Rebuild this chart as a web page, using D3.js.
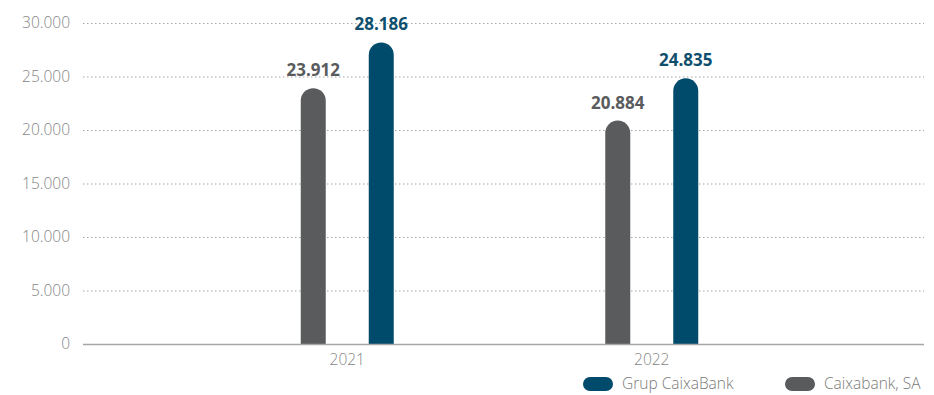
<!DOCTYPE html>
<html>
<head>
<meta charset="utf-8">
<script src="https://cdn.jsdelivr.net/npm/d3@7"></script>
<style>
  body { margin: 0; background: #fff; }
  svg { font-family: "Open Sans", sans-serif; }
</style>
</head>
<body>
<div id="chart"></div>
<script>
// data
var years = ["2021", "2022"];
var seriesNames = ["Caixabank, SA", "Grup CaixaBank"];
var caixabankSA = [23912, 20884];
var grupCaixaBank = [28186, 24835];
var yTicks = [0, 5000, 10000, 15000, 20000, 25000, 30000];
var legendOrder = ["Grup CaixaBank", "Caixabank, SA"];

var colors = { "Caixabank, SA": "#5a5b5d", "Grup CaixaBank": "#004b6b" };

var w = 934, h = 395;
var margin = { top: 23, right: 10, bottom: 51, left: 83 };
var plotRight = 924;

var svg = d3.select("#chart").append("svg")
    .attr("width", w)
    .attr("height", h);

var fmt = function(v) {
  return d3.format(",")(v).replace(/,/g, ".");
};

var y = d3.scaleLinear()
    .domain([0, 30000])
    .range([h - margin.bottom, margin.top]);

// the two year groups are not centred in the plot, so the band range is narrower
var x = d3.scaleBand()
    .domain(years)
    .range([195, 804])
    .padding(0);

var sub = d3.scalePoint()
    .domain(seriesNames)
    .range([-34, 34]);

// grid lines
svg.append("g")
  .selectAll("line")
  .data(yTicks.filter(function(d) { return d > 0; }))
  .enter().append("line")
    .attr("x1", margin.left)
    .attr("x2", plotRight)
    .attr("y1", function(d) { return y(d) + 0.5; })
    .attr("y2", function(d) { return y(d) + 0.5; })
    .attr("stroke", "#a6a6a6")
    .attr("stroke-width", 1)
    .attr("stroke-dasharray", "1.5,2.5");

// y axis labels
svg.append("g")
  .selectAll("text")
  .data(yTicks)
  .enter().append("text")
    .attr("x", 70)
    .attr("y", function(d) { return y(d); })
    .attr("dy", "0.35em")
    .attr("text-anchor", "end")
    .style("font-size", "15.5px")
    .style("font-weight", 300)
    .attr("fill", "#858585")
    .text(function(d) { return fmt(d); });

// bars
var rows = [];
years.forEach(function(yr, i) {
  rows.push({ year: yr, name: "Caixabank, SA", value: caixabankSA[i] });
  rows.push({ year: yr, name: "Grup CaixaBank", value: grupCaixaBank[i] });
});

var barW = 25;
function barPath(d) {
  var cx = x(d.year) + x.bandwidth() / 2 + sub(d.name);
  var x0 = cx - barW / 2, x1 = cx + barW / 2;
  var top = y(d.value), bot = y(0);
  var r = barW / 2;
  return "M" + x0 + "," + bot +
    "V" + (top + r) +
    "A" + r + "," + r + " 0 0 1 " + x1 + "," + (top + r) +
    "V" + bot + "Z";
}

svg.append("g")
  .selectAll("path")
  .data(rows)
  .enter().append("path")
    .attr("d", barPath)
    .attr("fill", function(d) { return colors[d.name]; });

// value labels
svg.append("g")
  .selectAll("text")
  .data(rows)
  .enter().append("text")
    .attr("x", function(d) { return x(d.year) + x.bandwidth() / 2 + sub(d.name); })
    .attr("y", function(d) { return y(d.value) - 12; })
    .attr("text-anchor", "middle")
    .style("font-size", "17px")
    .style("font-weight", 700)
    .attr("fill", function(d) { return d.name === "Grup CaixaBank" ? "#0f4f6e" : "#5a5b5d"; })
    .text(function(d) { return fmt(d.value); });

// zero line
svg.append("line")
    .attr("x1", margin.left)
    .attr("x2", plotRight)
    .attr("y1", y(0) + 0.5)
    .attr("y2", y(0) + 0.5)
    .attr("stroke", "#a6a6a6")
    .attr("stroke-width", 1.5);

// x labels
svg.append("g")
  .selectAll("text")
  .data(years)
  .enter().append("text")
    .attr("x", function(d) { return x(d) + x.bandwidth() / 2; })
    .attr("y", y(0) + 21)
    .attr("text-anchor", "middle")
    .style("font-size", "15.5px")
    .style("font-weight", 300)
    .attr("fill", "#858585")
    .text(function(d) { return d; });

// legend
var legX = [583, 785];
var leg = svg.append("g")
  .selectAll("g")
  .data(legendOrder)
  .enter().append("g")
    .attr("transform", function(d, i) { return "translate(" + legX[i] + ",384)"; });

leg.append("rect")
    .attr("x", 0)
    .attr("y", -7)
    .attr("width", 30)
    .attr("height", 14)
    .attr("rx", 7)
    .attr("fill", function(d) { return colors[d]; });

leg.append("text")
    .attr("x", 39)
    .attr("y", 0)
    .attr("dy", "0.35em")
    .style("font-size", "15.5px")
    .style("font-weight", 300)
    .attr("fill", "#7a7a7a")
    .text(function(d) { return d; });
</script>
</body>
</html>
